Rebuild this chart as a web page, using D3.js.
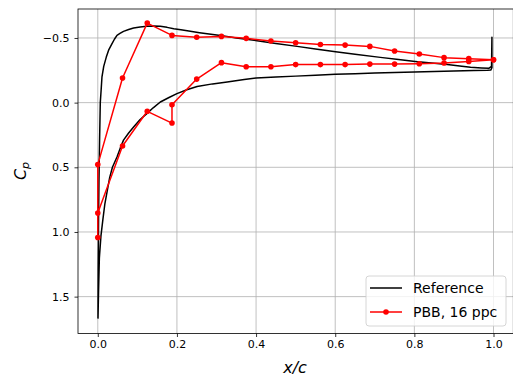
<!DOCTYPE html>
<html><head><meta charset="utf-8">
<script src="https://cdn.jsdelivr.net/npm/d3@7"></script>
<style>body{margin:0;background:#fff;} svg{display:block;font-family:"DejaVu Sans",sans-serif;}</style>
</head><body>
<svg id="c" width="513" height="378"></svg>
<script>
// Reference (black) curve: lower surface from LE to TE, then TE spike, then upper surface TE to LE
const refLowerX = [0.0005,0.002,0.004,0.008,0.013,0.018,0.024,0.030,0.037,0.0485,0.057,0.065,0.078,0.0905,0.107,0.124,0.140,0.158,0.180,0.200,0.225,0.251,0.290,0.327,0.370,0.400,0.450,0.500,0.550,0.600,0.650,0.700,0.750,0.800,0.850,0.900,0.950,0.985,0.993];
const refLowerCp = [1.67,1.45,1.20,1.03,0.90,0.78,0.68,0.58,0.50,0.42,0.35,0.29,0.235,0.188,0.13,0.085,0.04,-0.005,-0.04,-0.07,-0.10,-0.125,-0.145,-0.16,-0.178,-0.19,-0.198,-0.205,-0.212,-0.219,-0.224,-0.229,-0.233,-0.237,-0.241,-0.245,-0.249,-0.250,-0.252];
const refSpikeX = [0.996,0.996];
const refSpikeCp = [-0.27,-0.505];
const refUpperX = [0.995,0.988,0.970,0.942,0.920,0.883,0.850,0.802,0.760,0.714,0.650,0.601,0.550,0.5037,0.450,0.4025,0.350,0.310,0.257,0.230,0.210,0.192,0.175,0.158,0.140,0.124,0.107,0.0905,0.078,0.065,0.056,0.0485,0.042,0.036,0.028,0.0215,0.015,0.0106,0.0085,0.0063,0.0045,0.003,0.002,0.001,0.0005];
const refUpperCp = [-0.28,-0.265,-0.268,-0.274,-0.282,-0.294,-0.305,-0.319,-0.333,-0.350,-0.374,-0.394,-0.415,-0.435,-0.458,-0.479,-0.500,-0.520,-0.541,-0.553,-0.563,-0.572,-0.582,-0.590,-0.592,-0.590,-0.585,-0.577,-0.565,-0.551,-0.535,-0.520,-0.490,-0.456,-0.410,-0.352,-0.280,-0.200,-0.100,0.0,0.30,0.60,0.90,1.30,1.67];

// PBB, 16 ppc (red)
const pbbX = [1.0,0.9375,0.875,0.8125,0.75,0.6875,0.625,0.5625,0.5,0.4375,0.375,0.3125,0.25,0.1875,0.125,0.0625,0.0,0.0,0.0,0.0625,0.125,0.1875,0.1875,0.25,0.3125,0.375,0.4375,0.5,0.5625,0.625,0.6875,0.75,0.8125,0.875,0.9375,1.0];
const pbbCp = [-0.332,-0.34,-0.348,-0.376,-0.399,-0.435,-0.445,-0.45,-0.463,-0.476,-0.497,-0.512,-0.505,-0.52,-0.615,-0.19,0.479,1.043,0.853,0.335,0.067,0.158,0.016,-0.182,-0.309,-0.278,-0.278,-0.294,-0.294,-0.294,-0.298,-0.298,-0.301,-0.306,-0.319,-0.332];

const xTicks = [0.0,0.2,0.4,0.6,0.8,1.0];
const yTicks = [-0.5,0.0,0.5,1.0,1.5];
const legendLabels = ["Reference","PBB, 16 ppc"];

const L=78, T=9, R=513.3, B=333.5;
const svg = d3.select("#c");
const x = d3.scaleLinear().domain([-0.05,1.05]).range([L,R]);
const y = d3.scaleLinear().domain([-0.724,1.785]).range([T,B]);

svg.append("defs").append("clipPath").attr("id","clip").append("rect")
  .attr("x",L).attr("y",T).attr("width",R-L).attr("height",B-T);

// grid
const g = svg.append("g");
g.selectAll(".gx").data(xTicks).enter().append("line")
  .attr("x1",d=>x(d)).attr("x2",d=>x(d)).attr("y1",T).attr("y2",B)
  .attr("stroke","#b0b0b0").attr("stroke-width",0.8);
g.selectAll(".gy").data(yTicks).enter().append("line")
  .attr("x1",L).attr("x2",R).attr("y1",d=>y(d)).attr("y2",d=>y(d))
  .attr("stroke","#b0b0b0").attr("stroke-width",0.8);

const plot = svg.append("g").attr("clip-path","url(#clip)");
const line = d3.line().x(d=>x(d[0])).y(d=>y(d[1]));
const refPts = [].concat(
  refLowerX.map((v,i)=>[v,refLowerCp[i]]),
  refSpikeX.map((v,i)=>[v,refSpikeCp[i]]),
  refUpperX.map((v,i)=>[v,refUpperCp[i]]));
plot.append("path").attr("d",line(refPts)).attr("fill","none")
  .attr("stroke","#000").attr("stroke-width",1.5).attr("stroke-linejoin","round");

const pbbPts = pbbX.map((v,i)=>[v,pbbCp[i]]);
plot.append("path").attr("d",line(pbbPts)).attr("fill","none")
  .attr("stroke","#ff0000").attr("stroke-width",1.5).attr("stroke-linejoin","round");
plot.selectAll(".m").data(pbbPts).enter().append("circle")
  .attr("cx",d=>x(d[0])).attr("cy",d=>y(d[1])).attr("r",2.8).attr("fill","#ff0000");

// frame
svg.append("rect").attr("x",L).attr("y",T).attr("width",R-L).attr("height",B-T)
  .attr("fill","none").attr("stroke","#000").attr("stroke-width",0.8);

// axes
const xa = svg.append("g").attr("transform",`translate(0,${B})`)
  .call(d3.axisBottom(x).tickValues(xTicks).tickFormat(d3.format(".1f")).tickSize(3.5).tickPadding(3.5));
const ya = svg.append("g").attr("transform",`translate(${L},0)`)
  .call(d3.axisLeft(y).tickValues(yTicks).tickFormat(d=>d3.format(".1f")(d).replace("-","\u2212")).tickSize(3.5).tickPadding(5));
[xa,ya].forEach(a=>{
  a.select(".domain").remove();
  a.selectAll("text").attr("font-size",11).attr("fill","#000").attr("font-family","DejaVu Sans");
  a.selectAll("line").attr("stroke","#000").attr("stroke-width",0.8);
});

// axis labels
svg.append("text").attr("x",295).attr("y",373).attr("text-anchor","middle")
  .attr("font-size",16).attr("font-style","italic").text("x/c");
const cp = svg.append("text").attr("transform","translate(26,171) rotate(-90)")
  .attr("text-anchor","middle").attr("font-size",16).attr("font-style","italic");
cp.append("tspan").text("C");
cp.append("tspan").attr("font-size",11).attr("dy",3).text("p");

// legend
const lg = svg.append("g");
lg.append("rect").attr("x",366).attr("y",276).attr("width",140).attr("height",50).attr("rx",3)
  .attr("fill","#fff").attr("fill-opacity",0.8).attr("stroke","#cccccc").attr("stroke-width",0.8);
const colors = ["#000","#ff0000"];
legendLabels.forEach((lab,i)=>{
  const yy = 288 + i*24;
  lg.append("line").attr("x1",370).attr("x2",402).attr("y1",yy).attr("y2",yy)
    .attr("stroke",colors[i]).attr("stroke-width",1.5);
  if(i===1) lg.append("circle").attr("cx",386).attr("cy",yy).attr("r",2.8).attr("fill",colors[i]);
  lg.append("text").attr("x",413).attr("y",yy).attr("dy","0.35em").attr("font-size",14).text(lab);
});
</script>
</body></html>
